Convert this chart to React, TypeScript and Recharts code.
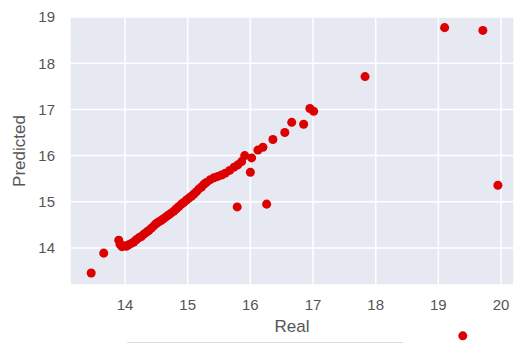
import React from "react";
import { ScatterChart, Scatter, XAxis, YAxis, ZAxis, CartesianGrid } from "recharts";

const realValues: number[] = [
  13.46, 13.66, 13.9, 13.92, 13.95, 13.98, 14.02, 14.06, 14.1, 14.14, 14.18, 14.22, 14.26,
  14.3, 14.34, 14.38, 14.42, 14.46, 14.5, 14.54, 14.58, 14.62, 14.66, 14.7, 14.74, 14.78,
  14.82, 14.86, 14.9, 14.94, 14.98, 15.02, 15.06, 15.1, 15.14, 15.18, 15.22, 15.26, 15.3,
  15.36, 15.42, 15.48, 15.54, 15.6, 15.67, 15.74, 15.8, 15.86, 15.91, 16.02, 16.0, 16.12,
  16.2, 16.36, 16.55, 16.66, 16.85, 16.95, 17.01, 17.83, 19.1, 19.71, 19.95, 15.79, 16.26,
];
const predictedValues: number[] = [
  13.46, 13.89, 14.17, 14.08, 14.03, 14.05, 14.04, 14.07, 14.1, 14.13, 14.18, 14.22, 14.25,
  14.3, 14.34, 14.38, 14.43, 14.48, 14.53, 14.57, 14.6, 14.64, 14.68, 14.72, 14.76, 14.8,
  14.85, 14.9, 14.95, 14.99, 15.04, 15.08, 15.12, 15.17, 15.22, 15.28, 15.32, 15.38, 15.42,
  15.48, 15.52, 15.55, 15.58, 15.62, 15.68, 15.75, 15.8, 15.87, 16.0, 15.95, 15.64, 16.12,
  16.18, 16.35, 16.5, 16.72, 16.68, 17.02, 16.96, 17.71, 18.77, 18.71, 15.36, 14.89, 14.95,
];
// one stray point that falls below the plotting area in the picture
const strayReal: number[] = [19.39];
const strayPredicted: number[] = [12.1];

const xTicks: number[] = [14, 15, 16, 17, 18, 19, 20];
const yTicks: number[] = [14, 15, 16, 17, 18, 19];

const points = realValues.map((r, i) => ({ real: r, predicted: predictedValues[i] }));
const strayPoints = strayReal.map((r, i) => ({ real: r, predicted: strayPredicted[i] }));

const X_DOMAIN: [number, number] = [13.122, 20.207];
const Y_DOMAIN: [number, number] = [13.2, 19.0];
// overlay extends the same y scale down to the bottom of the picture
const Y_DOMAIN_OVERLAY: [number, number] = [11.923, 19.0];

const FONT = "'Liberation Sans', Arial, sans-serif";
const DOT = "#dc0000";

export default function App() {
  return (
    <div style={{ position: "absolute", left: 0, top: 0, width: 514, height: 344, background: "#fff" }}>
      <ScatterChart
        width={514}
        height={344}
        margin={{ top: 17, right: 0, bottom: 0, left: 0 }}
        style={{ fontFamily: FONT }}
      >
        <CartesianGrid fill="#e6e9f2" stroke="#ffffff" strokeWidth={1.5} />
        <XAxis
          type="number"
          dataKey="real"
          domain={X_DOMAIN}
          allowDataOverflow
          ticks={xTicks}
          axisLine={false}
          tickLine={false}
          tickSize={0}
          tickMargin={14}
          height={59}
          tick={{ fill: "#555", fontSize: 15 }}
          label={{ value: "Real", position: "insideBottom", offset: 12, fill: "#555", fontSize: 17 }}
        />
        <YAxis
          type="number"
          dataKey="predicted"
          domain={Y_DOMAIN}
          allowDataOverflow
          ticks={yTicks}
          axisLine={false}
          tickLine={false}
          tickSize={0}
          tickMargin={15}
          width={70}
          tick={{ fill: "#555", fontSize: 15 }}
          label={{
            value: "Predicted",
            angle: -90,
            position: "insideLeft",
            offset: 19,
            fill: "#555",
            fontSize: 17,
            style: { textAnchor: "middle" },
          }}
        />
        <ZAxis range={[70, 70]} />
        <Scatter data={points} fill={DOT} isAnimationActive={false} />
      </ScatterChart>
      <div style={{ position: "absolute", left: 0, top: 0, pointerEvents: "none" }}>
        <ScatterChart
          width={514}
          height={344}
          margin={{ top: 17, right: 0, bottom: 0, left: 70 }}
          style={{ fontFamily: FONT }}
        >
          <XAxis type="number" dataKey="real" domain={X_DOMAIN} hide />
          <YAxis type="number" dataKey="predicted" domain={Y_DOMAIN_OVERLAY} hide />
          <ZAxis range={[45, 45]} />
          <Scatter data={strayPoints} fill={DOT} isAnimationActive={false} />
        </ScatterChart>
      </div>
      <div
        style={{
          position: "absolute",
          left: 127,
          top: 342,
          width: 276,
          height: 0,
          borderTop: "1px solid #dcdcdc",
        }}
      />
    </div>
  );
}
